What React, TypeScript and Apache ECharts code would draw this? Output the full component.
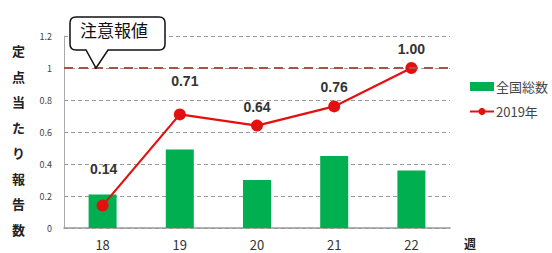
import React, { useEffect, useRef } from "react";
import * as echarts from "echarts";

const weeks = ["18", "19", "20", "21", "22"];
const nationalTotal = [0.21, 0.49, 0.3, 0.45, 0.36];
const rate2019 = [0.14, 0.71, 0.64, 0.76, 1.0];
const labelOffsets = [[1, -19], [5, -15], [0, -1], [0, -1], [0, -1]];
const yTicks = { min: 0, max: 1.2, interval: 0.2 };
const alertValue = 1.0;

const FONT = "'Noto Sans CJK JP', 'Noto Sans', sans-serif";

const calloutPath =
  "M 76 17 L 159 17 Q 165 17 165 23 L 165 44 Q 165 50 159 50 L 108 50 L 96 68 L 86 50 L 76 50 Q 70 50 70 44 L 70 23 Q 70 17 76 17 Z";

echarts.graphic.registerShape("callout", echarts.graphic.extendPath(calloutPath, {}) as any);

export default function App() {
  const ref = useRef<HTMLDivElement>(null);
  useEffect(() => {
    if (!ref.current) return;
    document.body.style.margin = "0";
    document.body.style.overflow = "hidden";
    const chart = echarts.init(ref.current, null, { renderer: "svg" });
    chart.setOption({
      animation: false,
      backgroundColor: "#ffffff",
      textStyle: { fontFamily: FONT },
      grid: { left: 64, right: 102, top: 36, bottom: 25, containLabel: false },
      legend: {
        orient: "vertical",
        left: 464,
        top: 75,
        itemGap: 12,
        itemWidth: 24,
        itemHeight: 9,
        textStyle: { fontSize: 13, color: "#444", fontFamily: FONT, padding: [0, 0, 0, -3] },
        data: [
          { name: "全国総数", icon: "rect" },
          { name: "2019年" },
        ],
      },
      xAxis: {
        type: "category",
        data: weeks,
        axisLine: { lineStyle: { color: "#999", width: 1.5 } },
        axisTick: { show: false },
        axisLabel: { fontSize: 13, color: "#333", margin: 10, fontFamily: FONT },
      },
      yAxis: {
        type: "value",
        min: yTicks.min,
        max: yTicks.max,
        interval: yTicks.interval,
        axisLine: { show: true, lineStyle: { color: "#aaa", width: 1 } },
        axisTick: { show: false },
        axisLabel: { fontSize: 9, color: "#444", margin: 12, fontFamily: FONT },
        splitLine: { show: true, lineStyle: { color: "#999", type: [4, 3], width: 1 } },
      },
      series: [
        {
          name: "全国総数",
          type: "bar",
          data: nationalTotal,
          barWidth: 28,
          itemStyle: { color: "#00b050" },
          z: 2,
        },
        {
          name: "2019年",
          type: "line",
          data: rate2019.map((v, i) => ({
            value: v,
            label: { offset: labelOffsets[i] },
          })),
          symbol: "circle",
          symbolSize: 12,
          lineStyle: { color: "#e41010", width: 2.2 },
          itemStyle: { color: "#e41010" },
          label: {
            show: true,
            position: "top",
            fontSize: 14,
            fontWeight: "bold",
            color: "#333",
            fontFamily: "'Liberation Sans', 'Noto Sans', sans-serif",
            formatter: (p: any) => Number(p.value).toFixed(2),
          },
          markLine: {
            silent: true,
            symbol: "none",
            label: { show: false },
            lineStyle: { color: "#a8524c", type: [9, 6], width: 2 },
            data: [{ yAxis: alertValue }],
          },
          z: 4,
        },
      ],
      graphic: [
        {
          type: "callout",
          x: 0,
          y: 0,
          z: 10,
          style: { fill: "#fff", stroke: "#111", lineWidth: 1.5 },
        },
        {
          type: "text",
          left: 80,
          top: 21,
          z: 11,
          style: { text: "注意報値", fontSize: 17, fill: "#111", fontFamily: FONT },
        },
        {
          type: "text",
          left: 12,
          top: 38,
          style: {
            text: "定\n点\n当\nた\nり\n報\n告\n数",
            fontSize: 13,
            lineHeight: 25.5,
            fontWeight: "bold",
            fill: "#222",
            fontFamily: FONT,
          },
        },
        {
          type: "text",
          left: 464,
          top: 237,
          style: { text: "週", fontSize: 12, fontWeight: "bold", fill: "#222", fontFamily: FONT },
        },
      ],
    });
    return () => chart.dispose();
  }, []);
  return (
    <div
      ref={ref}
      style={{ position: "absolute", left: 0, top: 0, width: 552, height: 253 }}
    />
  );
}
